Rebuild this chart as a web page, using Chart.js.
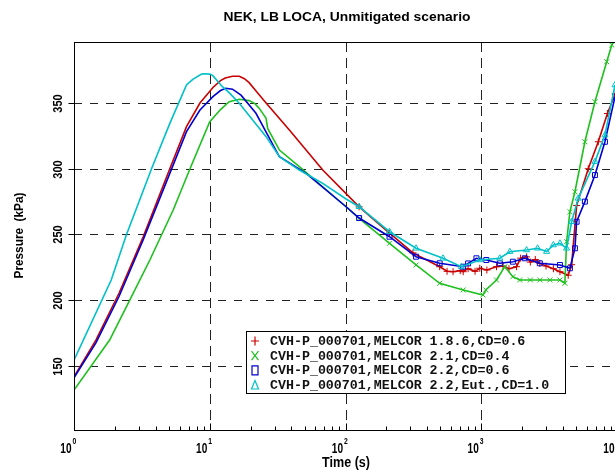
<!DOCTYPE html>
<html>
<head>
<meta charset="utf-8">
<script src="https://cdn.jsdelivr.net/npm/chart.js@4.4.1/dist/chart.umd.min.js"></script>
<style>
html,body{margin:0;padding:0;overflow:hidden;background:#fff;}
#wrap{width:640px;height:472px;}
</style>
</head>
<body>
<div id="wrap"><canvas id="c" width="640" height="472"></canvas></div>
<script>
// ---------- data ----------
const redT = [1, 1.45, 2.15, 3.23, 5.08, 6.74, 8.47, 10.6, 12, 13, 14.7, 16.5, 18, 19.5, 22, 26, 38.6, 68, 126, 211, 314, 494, 560, 620, 700, 736, 800, 900, 975, 1100, 1295, 1450, 1600, 1820, 1950, 2157, 2300, 2500, 2700, 3000, 3400, 3800, 4370, 4634, 5040, 6140, 7280, 8500, 9700];
const redP = [141.8, 169.7, 205.5, 248, 300, 332, 350, 362, 367, 369, 370.3, 370.3, 368.5, 365.5, 359, 350, 329.5, 299, 271, 251, 236, 225.5, 222, 221.7, 222.5, 221.7, 224, 222, 224.3, 223, 225.5, 226, 224, 225.5, 232, 233, 229, 231, 228, 226, 224, 221.7, 219, 227, 272, 300, 320.5, 342, 357];

const greenT = [1, 1.83, 2.58, 3.62, 5.38, 7.14, 10, 12, 13.9, 16.5, 19.5, 21.5, 23.2, 26, 26.7, 32.6, 45.7, 68, 101, 126, 211, 331, 494, 736, 1030, 1080, 1295, 1490, 1710, 1920, 2300, 2700, 3200, 3800, 4130, 4254, 4500, 4900, 5800, 6880, 8400, 9150, 9700];
const greenP = [131.7, 169.7, 200.2, 230.6, 268.6, 299.8, 335.8, 345, 351, 352.8, 351.8, 349.5, 345.9, 338.3, 330.7, 314.2, 301.6, 286.3, 271.1, 262.3, 243.3, 226.8, 212.9, 207.8, 204, 207.8, 215.4, 225.5, 217.9, 215.4, 215.4, 215.4, 215.4, 215.4, 212.9, 244.5, 267.3, 282.5, 320.5, 351, 381.4, 394.1, 400];

const blueT = [1, 1.45, 2.15, 3.23, 5.08, 6.74, 8.47, 10.6, 12, 13.1, 14.7, 17, 21.9, 32.6, 51.3, 101, 126, 211, 331, 494, 736, 800, 921, 1090, 1370, 1710, 2094, 2700, 3800, 4500, 4900, 5040, 5800, 6880, 8150, 9670];
const blueP = [141, 167.5, 203, 245.8, 296.5, 328.2, 344.7, 355, 359.5, 361.2, 360.5, 356, 342.2, 309.1, 296.5, 271.1, 262.5, 248.3, 233.1, 228.1, 225.5, 228, 231.9, 230.6, 228.1, 229.3, 231.9, 228.1, 226.8, 224.3, 239.5, 259.7, 275, 295.2, 320.5, 354.8];

const cyanT = [1, 1.88, 2.43, 3.72, 5.08, 6.74, 7.5, 8.7, 9.1, 10, 10.5, 12.4, 14, 16.5, 26, 32.6, 45.7, 68, 101, 126, 211, 331, 523, 714, 975, 1370, 1623, 2157, 2600, 3030, 3400, 3800, 4254, 4634, 5180, 6880, 8150, 9670];
const cyanP = [154.5, 215.4, 249.6, 299.8, 334.5, 363.7, 368, 372, 372.3, 372, 371, 362.4, 357.5, 349.8, 324.4, 309.1, 299, 288.9, 277, 271.1, 252.1, 239.5, 231.9, 225.5, 230.6, 231.9, 236.9, 238.2, 239.5, 237, 242, 243.3, 239.5, 259.7, 277.5, 305.4, 325.6, 363.7];

const yTicks = [150, 200, 250, 300, 350];
const xDecades = [1, 10, 100, 1000, 10000];
const xExponents = ['0', '1', '2', '3', '4'];
const legendLabels = [
  'CVH-P_000701,MELCOR 1.8.6,CD=0.6',
  'CVH-P_000701,MELCOR 2.1,CD=0.4',
  'CVH-P_000701,MELCOR 2.2,CD=0.6',
  'CVH-P_000701,MELCOR 2.2,Eut.,CD=1.0'
];
const titleText = 'NEK, LB LOCA, Unmitigated scenario';
const xTitle = 'Time (s)';
const yTitle = 'Pressure  (kPa)';

// ---------- styles ----------
const colors = ['#c80000', '#1ec01e', '#0000d0', '#00c0c8'];
const styles = ['cross', 'crossRot', 'rect', 'triangle'];

function pts(t, p) { return t.map((v, i) => ({x: v, y: p[i]})); }

function mkSet(label, t, p, i, order) {
  return {
    label, data: pts(t, p), borderColor: colors[i], borderWidth: 1.6,
    pointStyle: styles[i], pointBorderColor: colors[i], pointBackgroundColor: 'rgba(0,0,0,0)',
    pointBorderWidth: 1,
    pointRadius: c => (c.raw && c.raw.x >= 120 ? 3.5 : 0),
    tension: 0, fill: false, order
  };
}

function drawText(ctx, s, x, y, font, o) {
  o = o || {};
  ctx.save();
  ctx.font = font;
  ctx.translate(x, y);
  if (o.rot) ctx.rotate(o.rot);
  let sx = o.sx || 1;
  if (o.fit) sx = o.fit / ctx.measureText(s).width;
  ctx.scale(sx, 1);
  ctx.textAlign = o.align || 'center';
  ctx.textBaseline = o.base || 'middle';
  ctx.fillStyle = o.color || '#000';
  ctx.fillText(s, 0, 0);
  ctx.restore();
}

function marker(ctx, style, x, y, col) {
  ctx.save();
  ctx.strokeStyle = col; ctx.lineWidth = 1.2;
  ctx.beginPath();
  if (style === 'cross') { ctx.moveTo(x - 4, y); ctx.lineTo(x + 4, y); ctx.moveTo(x, y - 4.5); ctx.lineTo(x, y + 4.5); }
  else if (style === 'crossRot') { ctx.moveTo(x - 3.5, y - 4.5); ctx.lineTo(x + 3.5, y + 4.5); ctx.moveTo(x + 3.5, y - 4.5); ctx.lineTo(x - 3.5, y + 4.5); }
  else if (style === 'rect') { ctx.rect(x - 3, y - 4.5, 6, 9); }
  else { ctx.moveTo(x, y - 4.5); ctx.lineTo(x + 3.5, y + 4); ctx.lineTo(x - 3.5, y + 4); ctx.closePath(); }
  ctx.stroke();
  ctx.restore();
}

const deco = {
  id: 'deco',
  beforeDatasetsDraw(chart) {
    const {ctx, chartArea: a, scales: {x, y}} = chart;
    ctx.save();
    ctx.lineWidth = 1; ctx.strokeStyle = '#222';
    ctx.setLineDash([8, 8]);
    yTicks.forEach(v => {
      const py = Math.round(y.getPixelForValue(v)) + 0.5;
      ctx.beginPath(); ctx.moveTo(a.left, py); ctx.lineTo(a.right, py); ctx.stroke();
    });
    ctx.setLineDash([10, 6]);
    xDecades.slice(1, 4).forEach(v => {
      const px = Math.round(x.getPixelForValue(v)) + 0.5;
      ctx.beginPath(); ctx.moveTo(px, a.top); ctx.lineTo(px, a.bottom); ctx.stroke();
    });
    ctx.restore();
  },
  afterDatasetsDraw(chart) {
    const {ctx, chartArea: a, scales: {x, y}} = chart;
    ctx.save();
    ctx.strokeStyle = '#000'; ctx.lineWidth = 1; ctx.setLineDash([]);
    const L = Math.round(a.left) + 0.5, T = Math.round(a.top) + 0.5;
    const R = Math.round(a.right) + 0.5, B = Math.round(a.bottom) + 0.5;
    ctx.strokeRect(L, T, R - L, B - T);
    // y ticks (outside)
    yTicks.forEach(v => {
      const py = Math.round(y.getPixelForValue(v)) + 0.5;
      ctx.beginPath(); ctx.moveTo(L - 6, py); ctx.lineTo(L, py); ctx.stroke();
      drawText(ctx, String(v), 58.5, py, 'bold 12.5px "Liberation Sans", Arial, sans-serif', {rot: -Math.PI / 2, sx: 0.88});
    });
    // x ticks (inside)
    for (let d = 0; d < 4; d++) {
      for (let k = 1; k <= 9; k++) {
        const px = Math.round(x.getPixelForValue(k * Math.pow(10, d))) + 0.5;
        const len = k === 1 ? 7 : 4;
        ctx.beginPath(); ctx.moveTo(px, B); ctx.lineTo(px, B - len); ctx.stroke();
      }
    }
    xDecades.forEach((v, i) => {
      const px = x.getPixelForValue(v);
      drawText(ctx, '10', px - 2.5, 453, 'bold 14px "Liberation Sans", Arial, sans-serif', {align: 'right', base: 'alphabetic', sx: 0.72});
      drawText(ctx, xExponents[i], px - 1.5, 443.5, 'bold 8.5px "Liberation Sans", Arial, sans-serif', {align: 'left', base: 'alphabetic', sx: 0.8});
    });
    // titles
    drawText(ctx, titleText, 347, 17, 'bold 13px "Liberation Sans", Arial, sans-serif', {fit: 247});
    drawText(ctx, xTitle, 346, 463.5, 'bold 14px "Liberation Sans", Arial, sans-serif', {fit: 48});
    drawText(ctx, yTitle, 20, 235.5, 'bold 12.5px "Liberation Sans", Arial, sans-serif', {rot: -Math.PI / 2, fit: 86});
    // legend
    ctx.fillStyle = '#fff';
    ctx.fillRect(246.5, 331.5, 319, 62);
    ctx.strokeRect(246.5, 331.5, 319, 62);
    const rows = [341, 355.7, 370.3, 385];
    legendLabels.forEach((s, i) => {
      marker(ctx, styles[i], 255, rows[i], colors[i]);
      drawText(ctx, s, 270, rows[i] + 0.5, 'bold 13.3px "Liberation Mono", "DejaVu Sans Mono", monospace', {align: 'left', color: '#111'});
    });
    ctx.restore();
  }
};

new Chart(document.getElementById('c'), {
  type: 'line',
  data: {
    datasets: [
      mkSet(legendLabels[0], redT, redP, 0, 3),
      mkSet(legendLabels[1], greenT, greenP, 1, 2),
      mkSet(legendLabels[2], blueT, blueP, 2, 1),
      mkSet(legendLabels[3], cyanT, cyanP, 3, 0)
    ]
  },
  options: {
    responsive: false, animation: false, devicePixelRatio: 1,
    layout: {padding: {left: 74, top: 42, right: 23, bottom: 42}},
    plugins: {legend: {display: false}, title: {display: false}, tooltip: {enabled: false}},
    scales: {
      x: {type: 'logarithmic', min: 1, max: 10000, display: false},
      y: {type: 'linear', min: 101.3, max: 396.4, display: false}
    }
  },
  plugins: [deco]
});
</script>
</body>
</html>
